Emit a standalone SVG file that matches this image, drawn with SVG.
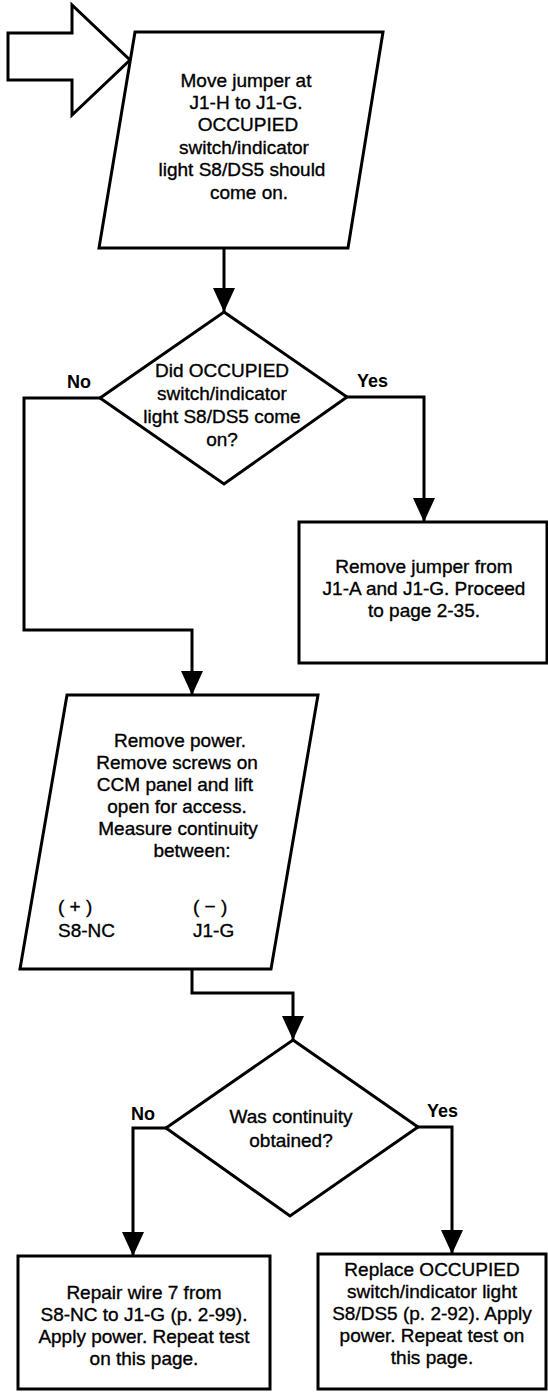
<svg xmlns="http://www.w3.org/2000/svg" width="548" height="1393" viewBox="0 0 548 1393">
<style>
.s{fill:#fff;stroke:#000;stroke-width:3;stroke-linejoin:miter}
.c{fill:none;stroke:#000;stroke-width:3;marker-end:url(#ah)}
.t{font-family:'Liberation Sans',Arial,sans-serif;font-size:19px;fill:#000;stroke:#000;stroke-width:0.35;text-anchor:middle}
.l{font-family:'Liberation Sans',Arial,sans-serif;font-size:18px;font-weight:bold;fill:#000}
</style>
<defs>
<marker id="ah" viewBox="0 0 24 22" refX="24" refY="11" markerWidth="24" markerHeight="22" markerUnits="userSpaceOnUse" orient="auto">
<path d="M0,0 L24,11 L0,22 z" fill="#000"/>
</marker>
</defs>
<rect width="548" height="1393" fill="#fff"/>
<g id="connectors">
<path class="c" d="M224,248 V312"/>
<path class="c" d="M347,397 H424 V522"/>
<path class="c" d="M100,398 H24 V630 H192 V695"/>
<path class="c" d="M192,969 V993 H293 V1040"/>
<path class="c" d="M166,1128 H133 V1256"/>
<path class="c" d="M418,1127 H452 V1254"/>
</g>
<g id="entry">
<polygon class="s" points="8,33 72,33 72,5 130,60 72,115 72,80 8,80"/>
</g>
<g id="step1">
<polygon class="s" points="135,32 383,32 348,248 99,248"/>
<text class="t" x="246" y="87">Move jumper at</text>
<text class="t" x="246" y="109">J1-H to J1-G.</text>
<text class="t" x="248" y="131">OCCUPIED</text>
<text class="t" x="244" y="154">switch/indicator</text>
<text class="t" x="242" y="176">light S8/DS5 should</text>
<text class="t" x="249" y="199">come on.</text>
</g>
<g id="decision1">
<polygon class="s" points="224,312 347,397 224,484 100,398"/>
<text class="t" x="222" y="377">Did OCCUPIED</text>
<text class="t" x="222" y="400">switch/indicator</text>
<text class="t" x="222" y="423">light S8/DS5 come</text>
<text class="t" x="222" y="446">on?</text>
<text class="l" x="67" y="388">No</text>
<text class="l" x="357" y="387">Yes</text>
</g>
<g id="proceed">
<rect class="s" x="299" y="522" width="248" height="141"/>
<text class="t" x="424" y="573">Remove jumper from</text>
<text class="t" x="424" y="595">J1-A and J1-G. Proceed</text>
<text class="t" x="424" y="617">to page 2-35.</text>
</g>
<g id="step2">
<polygon class="s" points="67,695 318,695 271,969 20,969"/>
<text class="t" x="180" y="747">Remove power.</text>
<text class="t" x="177" y="769">Remove screws on</text>
<text class="t" x="175" y="791">CCM panel and lift</text>
<text class="t" x="177" y="813">open for access.</text>
<text class="t" x="178" y="835">Measure continuity</text>
<text class="t" x="192" y="857">between:</text>
<text class="t" x="58" y="913" style="text-anchor:start">( + )</text>
<text class="t" x="193" y="913" style="text-anchor:start">( − )</text>
<text class="t" x="58" y="937" style="text-anchor:start">S8-NC</text>
<text class="t" x="193" y="937" style="text-anchor:start">J1-G</text>
</g>
<g id="decision2">
<polygon class="s" points="293,1040 418,1127 290,1216 166,1128"/>
<text class="t" x="291" y="1123">Was continuity</text>
<text class="t" x="291" y="1147">obtained?</text>
<text class="l" x="131" y="1120">No</text>
<text class="l" x="427" y="1117">Yes</text>
</g>
<g id="repair">
<rect class="s" x="18" y="1256" width="252" height="133"/>
<text class="t" x="144" y="1299">Repair wire 7 from</text>
<text class="t" x="144" y="1321">S8-NC to J1-G (p. 2-99).</text>
<text class="t" x="144" y="1343">Apply power. Repeat test</text>
<text class="t" x="144" y="1365">on this page.</text>
</g>
<g id="replace">
<rect class="s" x="318" y="1254" width="228" height="135"/>
<text class="t" x="432" y="1276">Replace OCCUPIED</text>
<text class="t" x="432" y="1298">switch/indicator light</text>
<text class="t" x="432" y="1320">S8/DS5 (p. 2-92). Apply</text>
<text class="t" x="432" y="1342">power. Repeat test on</text>
<text class="t" x="432" y="1364">this page.</text>
</g>
</svg>
